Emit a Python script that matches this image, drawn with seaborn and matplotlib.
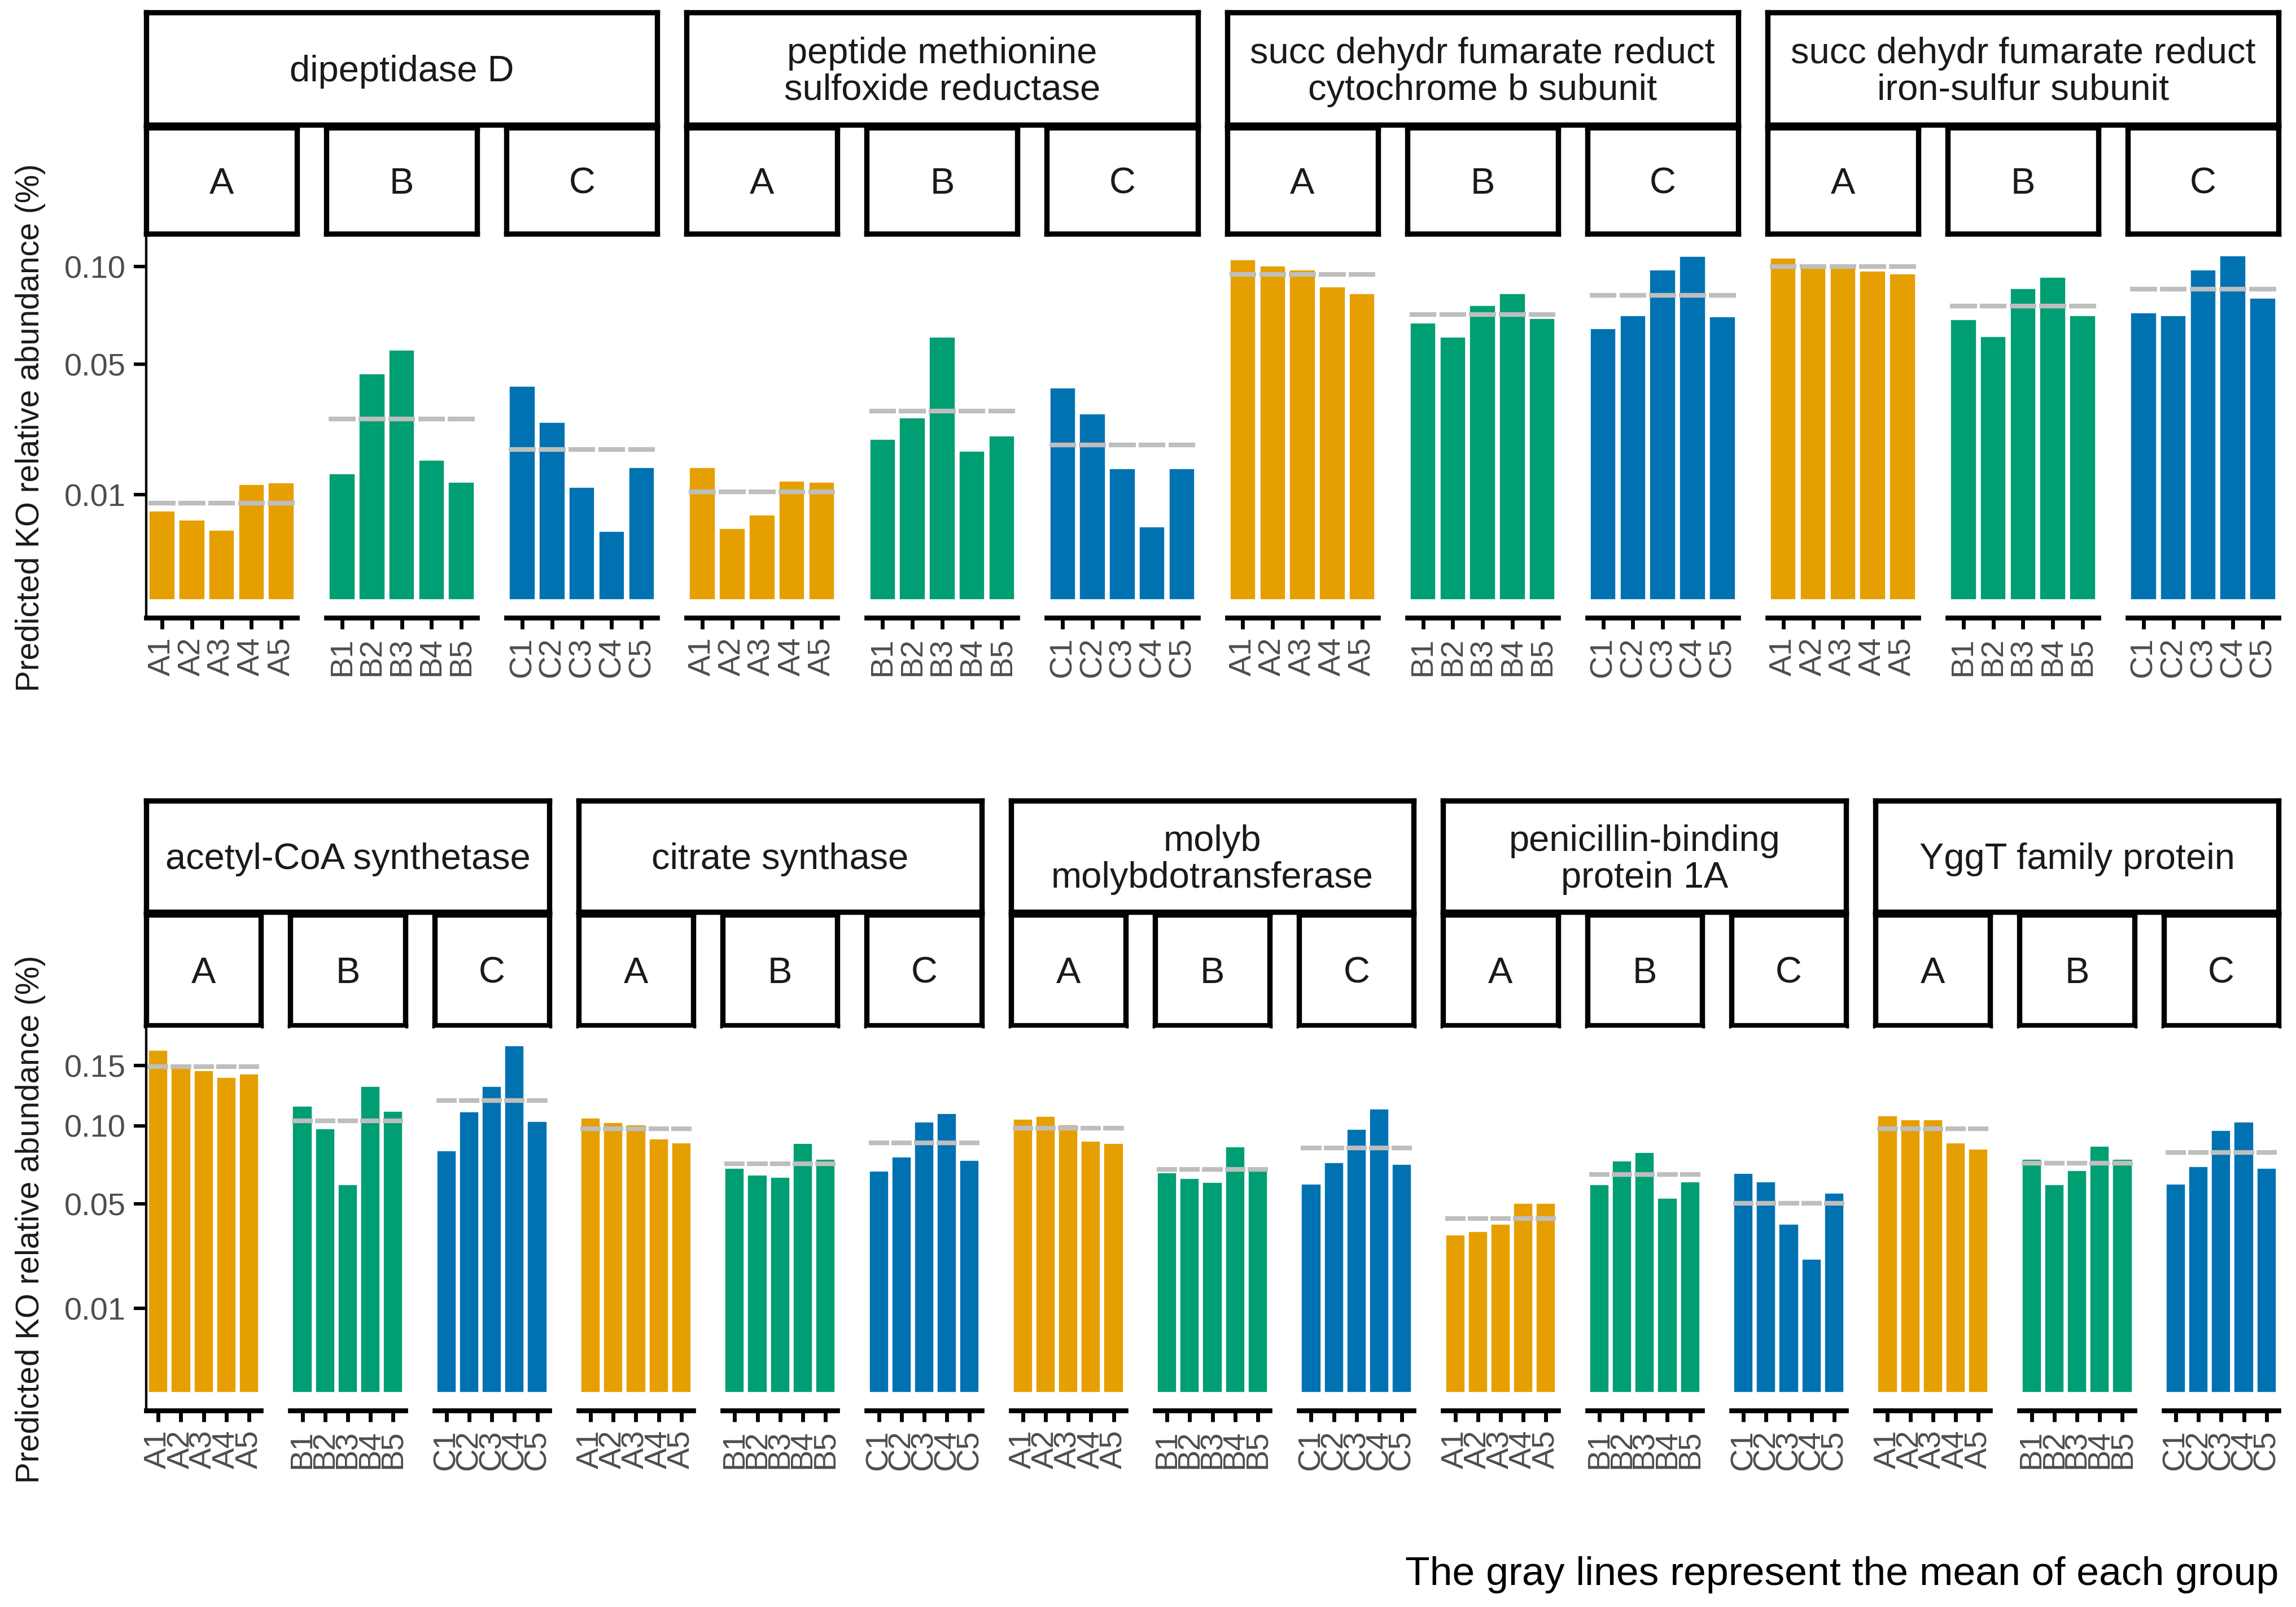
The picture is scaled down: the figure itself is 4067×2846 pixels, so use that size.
import numpy as np
import pandas as pd
import matplotlib.pyplot as plt
import seaborn as sns

# values (relative abundance, %), samples A1..A5, B1..B5, C1..C5
dipeptidase_d = [0.00724, 0.00587, 0.00452, 0.01224, 0.01252,
                 0.0145, 0.0464, 0.0566, 0.01774, 0.01272,
                 0.0414, 0.0287, 0.0116, 0.00435, 0.01597]
peptide_msr = [0.01597, 0.00475, 0.00668, 0.01291, 0.01262,
               0.02347, 0.03014, 0.0624, 0.02008, 0.02452,
               0.04068, 0.03134, 0.01576, 0.00493, 0.01576]
sdh_cyt_b = [0.1046, 0.1008, 0.0984, 0.0887, 0.0847,
             0.0694, 0.0624, 0.0784, 0.0847, 0.0716,
             0.0665, 0.0732, 0.0984, 0.1065, 0.0726]
sdh_fe_s = [0.1057, 0.1013, 0.1002, 0.0978, 0.0962,
            0.0710, 0.0628, 0.0877, 0.0941, 0.0732,
            0.0744, 0.0732, 0.0984, 0.1071, 0.0823]
acetyl_coa = [0.1649, 0.1517, 0.1462, 0.1399, 0.1428,
              0.1155, 0.0981, 0.0610, 0.1322, 0.1114,
              0.0825, 0.1110, 0.1322, 0.1694, 0.1037]
citrate = [0.1063, 0.1030, 0.1009, 0.0907, 0.0880,
           0.0712, 0.0669, 0.0654, 0.0874, 0.0769,
           0.0692, 0.0782, 0.1034, 0.1099, 0.0763]
molyb = [0.1055, 0.1077, 0.1009, 0.0890, 0.0874,
         0.0683, 0.0649, 0.0624, 0.0851, 0.0695,
         0.0615, 0.0745, 0.0978, 0.1132, 0.0736]
penicillin = [0.0353, 0.0368, 0.0402, 0.0506, 0.0506,
              0.0610, 0.0757, 0.0813, 0.0533, 0.0629,
              0.0680, 0.0629, 0.0402, 0.0253, 0.0562]
yggt = [0.1081, 0.1048, 0.1048, 0.0880, 0.0838,
        0.0769, 0.0610, 0.0697, 0.0857, 0.0769,
        0.0615, 0.0721, 0.0971, 0.1034, 0.0712]

groups = ['A', 'B', 'C']
samples = [g + str(i) for g in groups for i in range(1, 6)]
group_colors = {'A': '#E69F00', 'B': '#009E73', 'C': '#0072B2'}

top_funcs = ['dipeptidase D', 'peptide methionine\nsulfoxide reductase',
             'succ dehydr fumarate reduct\ncytochrome b subunit',
             'succ dehydr fumarate reduct\niron-sulfur subunit']
bottom_funcs = ['acetyl-CoA synthetase', 'citrate synthase',
                'molyb\nmolybdotransferase', 'penicillin-binding\nprotein 1A',
                'YggT family protein']
func_values = {
    top_funcs[0]: dipeptidase_d, top_funcs[1]: peptide_msr,
    top_funcs[2]: sdh_cyt_b, top_funcs[3]: sdh_fe_s,
    bottom_funcs[0]: acetyl_coa, bottom_funcs[1]: citrate,
    bottom_funcs[2]: molyb, bottom_funcs[3]: penicillin,
    bottom_funcs[4]: yggt,
}
top_ticks = [0.01, 0.05, 0.10]
bottom_ticks = [0.01, 0.05, 0.10, 0.15]

rows = []
for f, vals in func_values.items():
    for s, v in zip(samples, vals):
        rows.append({'function': f, 'group': s[0], 'sample': s, 'value': v})
df = pd.DataFrame(rows)

sns.set_theme(style='ticks')
plt.rcParams['font.family'] = ['Liberation Sans', 'DejaVu Sans']

W, H = 4067, 2846
fig = plt.figure(figsize=(W / 260, H / 260), dpi=260)


def rect(x0, y0, x1, y1):
    return [x0 / W, 1 - y1 / H, (x1 - x0) / W, (y1 - y0) / H]


def fwd(v):
    return np.sign(v) * np.sqrt(np.abs(v))


def inv(v):
    return np.sign(v) * v ** 2


def strip(box, text):
    sa = fig.add_axes(rect(*box))
    sa.set_xticks([])
    sa.set_yticks([])
    sa.set_facecolor('white')
    for sp in sa.spines.values():
        sp.set_visible(True)
        sp.set_linewidth(2.6)
        sp.set_color('black')
    sa.text(0.5, 0.47, text, ha='center', va='center', fontsize=18,
            color='#1A1A1A', linespacing=1.1, transform=sa.transAxes)


x_start, x_end, gap = 259, 4036, 52
row_specs = [
    (top_funcs, top_ticks, (22, 221), (226, 414), (421, 1094)),
    (bottom_funcs, bottom_ticks, (1418, 1615), (1620, 1816), (1820, 2498)),
]

for funcs, ticks, s1, s2, pan in row_specs:
    n = len(funcs) * 3
    w = (x_end - x_start - gap * (n - 1)) / n
    smax = np.sqrt(df[df['function'].isin(funcs)]['value'].max())
    ylim = (-(0.05 * smax) ** 2, (1.05 * smax) ** 2)
    k = 0
    for f in funcs:
        fx0 = x_start + k * (w + gap)
        fx1 = fx0 + 3 * w + 2 * gap
        for g in groups:
            x0 = x_start + k * (w + gap)
            strip((x0, s2[0], x0 + w, s2[1]), g)
            ax = fig.add_axes(rect(x0, pan[0], x0 + w, pan[1]))
            sub = df[(df['function'] == f) & (df['group'] == g)]
            sns.barplot(data=sub, x='sample', y='value', color=group_colors[g],
                        saturation=1, width=0.9, errorbar=None, ax=ax)
            pos = np.arange(len(sub))
            ax.hlines(np.full(len(sub), sub['value'].mean()), pos - 0.45, pos + 0.45,
                      color='#BEBEBE', lw=2.3, zorder=4)
            ax.set_yscale('function', functions=(fwd, inv))
            ax.set_ylim(*ylim)
            ax.set_xlim(-0.53, len(sub) - 0.47)
            ax.set_xlabel('')
            ax.set_ylabel('')
            ax.spines['top'].set_visible(False)
            ax.spines['right'].set_visible(False)
            ax.spines['bottom'].set_linewidth(2.4)
            ax.spines['bottom'].set_color('black')
            ax.tick_params(axis='x', labelrotation=90, labelsize=15.5,
                           labelcolor='#4D4D4D', length=5.5, width=1.9,
                           color='black', pad=4)
            if k == 0:
                ax.spines['left'].set_linewidth(1.2)
                ax.spines['left'].set_color('black')
                ax.set_yticks(ticks)
                ax.set_yticklabels([f'{t:.2f}' for t in ticks])
                ax.yaxis.set_minor_locator(plt.NullLocator())
                ax.tick_params(axis='y', labelsize=15.5, labelcolor='#4D4D4D',
                               length=6, width=1.7, color='black', pad=4)
            else:
                ax.spines['left'].set_visible(False)
                ax.set_yticks([])
                ax.yaxis.set_minor_locator(plt.NullLocator())
            k += 1
        # function strip drawn last so its border sits on top of the group strips
        strip((fx0, s1[0], fx1, s1[1]), f)
    fig.text(54 / W, 1 - (pan[0] + pan[1]) / 2 / H,
             'Predicted KO relative abundance (%)', rotation=90,
             ha='center', va='center', fontsize=15.7, color='#1A1A1A')

fig.text(4036 / W, 1 - 2789 / H, 'The gray lines represent the mean of each group',
         ha='right', va='center', fontsize=19.8, color='black')

fig.savefig('out.png', dpi=260, facecolor='white')
